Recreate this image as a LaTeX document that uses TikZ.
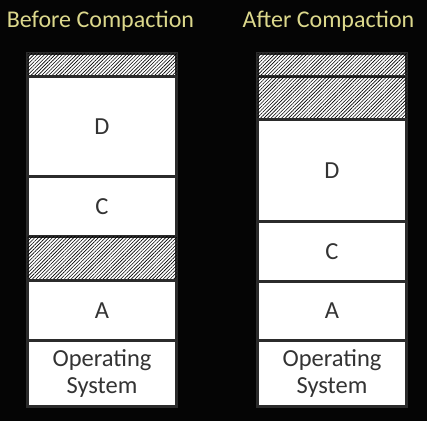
\documentclass[tikz,border=0pt]{standalone}
\usepackage{fontspec}
\setmainfont{Carlito}
\usetikzlibrary{patterns.meta}
\definecolor{bg}{HTML}{050505}
\definecolor{frame}{HTML}{2B2B2B}
\definecolor{titlecol}{HTML}{DCD88C}
\definecolor{labelcol}{HTML}{333333}
\tikzset{
  block/.style={draw=frame, line width=3pt, fill=white, minimum width=149pt,
    inner sep=0pt, outer sep=0pt, text=labelcol, font=\fontsize{24.5}{27}\selectfont, align=center},
  hatch/.style={block, fill=white, postaction={pattern={Lines[angle=45,distance=2.5pt,line width=0.6pt]}, pattern color=black}},
  title/.style={text=titlecol, font=\fontsize{24}{28}\selectfont, inner sep=0pt}
}
\begin{document}
\begin{tikzpicture}[x=1pt,y=-1pt]
\fill[bg] (0,0) rectangle (427,421);
\useasboundingbox (0,0) rectangle (427,421);
% titles
\node[title] (t1) at (100.5,21) {Before Compaction};
\node[title] (t2) at (328.5,21) {After Compaction};
% left column
\node[hatch, minimum height=23pt] (lh1) at (102,65) {};
\node[block, minimum height=100pt] (lD) at (102,126.5) {D};
\node[block, minimum height=60pt] (lC) at (102,206.5) {C};
\node[hatch, minimum height=44pt] (lh2) at (102,258.5) {};
\node[block, minimum height=60pt] (lA) at (102,310.5) {A};
\node[block, minimum height=66pt] (lOS) at (102,373.5) {Operating\\System};
% right column
\node[hatch, minimum height=23pt] (rh1) at (332,65) {};
\node[hatch, minimum height=43pt] (rh2) at (332,98) {};
\node[block, minimum height=102pt] (rD) at (332,170.5) {D};
\node[block, minimum height=60pt] (rC) at (332,251.5) {C};
\node[block, minimum height=59pt] (rA) at (332,311) {A};
\node[block, minimum height=66pt] (rOS) at (332,373.5) {Operating\\System};
\end{tikzpicture}
\end{document}
